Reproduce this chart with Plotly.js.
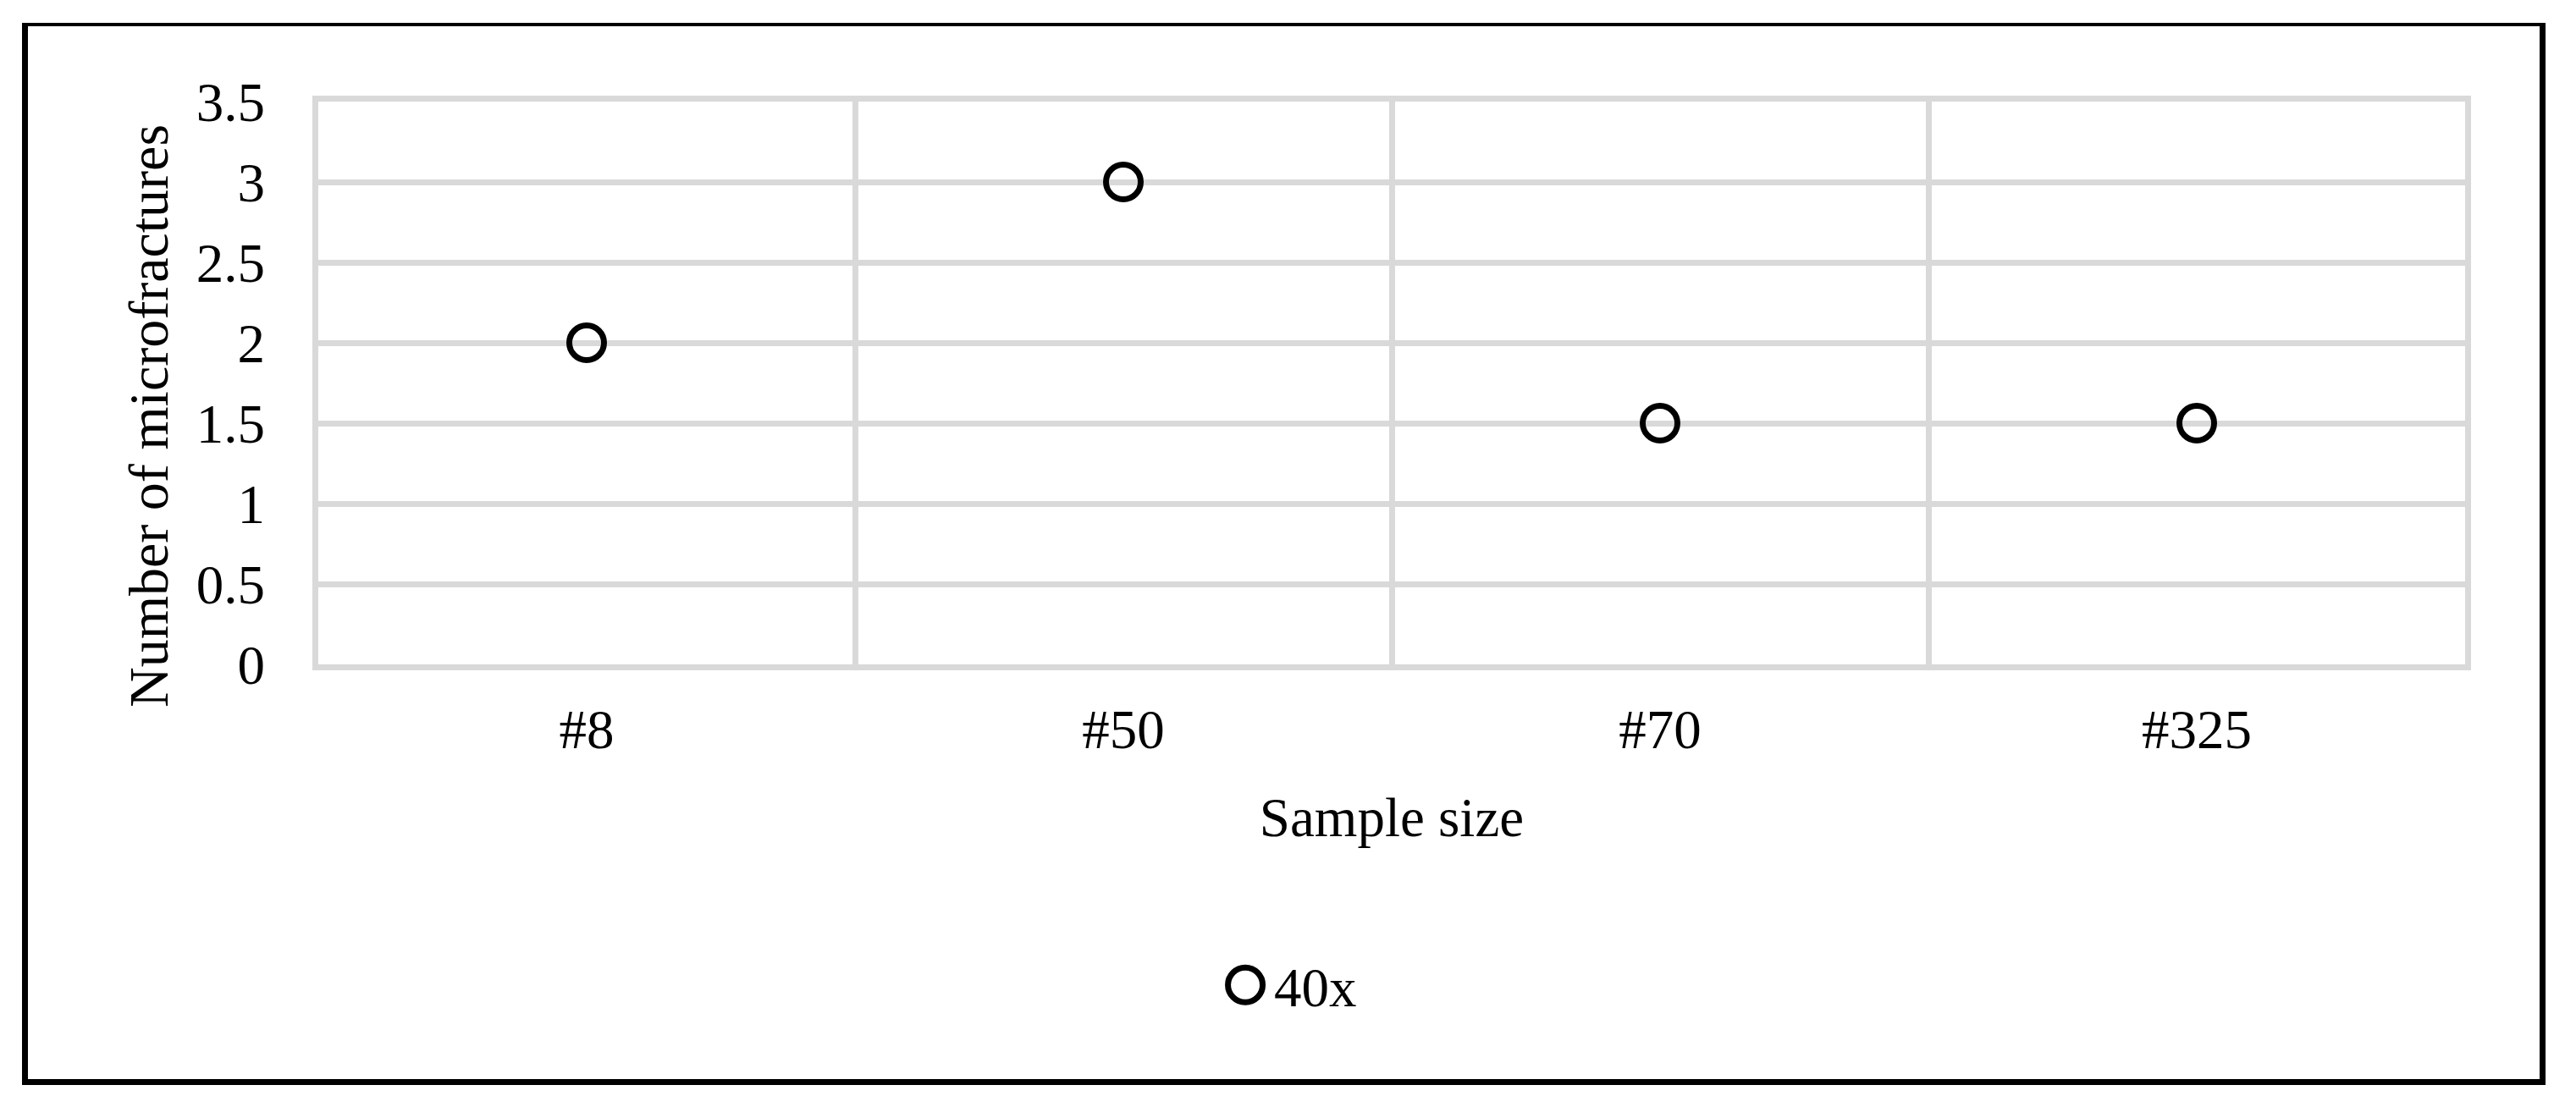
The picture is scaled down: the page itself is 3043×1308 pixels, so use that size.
<!DOCTYPE html>
<html>
<head>
<meta charset="utf-8">
<script src="https://cdn.plot.ly/plotly-3.0.1.min.js"></script>
<style>
  html, body { margin: 0; padding: 0; background: #ffffff; }
  #wrap { position: relative; width: 3043px; height: 1308px; }
  #chart { position: absolute; left: 0; top: 0; width: 3043px; height: 1308px; }
  #frame { position: absolute; left: 26px; top: 27px; width: 2967px; height: 1244px;
           border-style: solid; border-color: #000; border-width: 4px 7px 7px 7px; pointer-events: none; }
</style>
</head>
<body>
<div id="wrap">
  <div id="chart"></div>
  <div id="frame"></div>
</div>
<script>
// Data
const categories = ["#8", "#50", "#70", "#325"];
const microfractures40x = [2, 3, 1.5, 1.5];
const seriesName = "40x";
const yTickVals = [0, 0.5, 1, 1.5, 2, 2.5, 3, 3.5];
const yTickText = ["0", "0.5", "1", "1.5", "2", "2.5", "3", "3.5"];
const xTitle = "Sample size";
const yTitle = "Number of microfractures";

const FONT = "Liberation Serif, Times New Roman, serif";
const GRID = "#d9d9d9";

const trace = {
  type: "scatter",
  mode: "markers",
  name: seriesName,
  x: categories,
  y: microfractures40x,
  marker: { symbol: "circle-open", size: 41, color: "#000000", line: { width: 7, color: "#000000" } },
  cliponaxis: false,
  hoverinfo: "x+y"
};

const layout = {
  width: 3043,
  height: 1308,
  paper_bgcolor: "#ffffff",
  plot_bgcolor: "#ffffff",
  font: { family: FONT, size: 64, color: "#000000" },
  margin: { l: 376, r: 131, t: 120, b: 523, pad: 0 },
  showlegend: true,
  legend: {
    orientation: "h",
    x: 0.4184, xanchor: "left",
    y: -0.570, yanchor: "middle",
    itemwidth: 58,
    font: { family: FONT, size: 65, color: "#000000" },
    bgcolor: "rgba(0,0,0,0)"
  },
  xaxis: {
    type: "category",
    categoryorder: "array",
    categoryarray: categories,
    range: [-0.5, 3.5],
    tickson: "boundaries",
    showgrid: true,
    gridcolor: GRID,
    gridwidth: 7,
    showline: true,
    linecolor: GRID,
    linewidth: 7,
    mirror: true,
    ticks: "",
    zeroline: false,
    ticklabelstandoff: 14,
    tickfont: { family: FONT, size: 65, color: "#000000" },
    title: { text: xTitle, font: { family: FONT, size: 65, color: "#000000" }, standoff: 48 },
    automargin: false,
    fixedrange: true
  },
  yaxis: {
    range: [0, 3.5],
    tickmode: "array",
    tickvals: yTickVals,
    ticktext: yTickText,
    showgrid: true,
    gridcolor: GRID,
    gridwidth: 7,
    showline: true,
    linecolor: GRID,
    linewidth: 7,
    mirror: true,
    zeroline: false,
    ticks: "",
    ticklabelstandoff: 43,
    tickfont: { family: FONT, size: 65, color: "#000000" },
    automargin: false,
    fixedrange: true
  },
  annotations: [{
    text: yTitle,
    xref: "paper", yref: "paper",
    x: -0.0793, y: 0.442,
    xanchor: "center", yanchor: "middle",
    textangle: -90,
    showarrow: false,
    font: { family: FONT, size: 66, color: "#000000" }
  }]
};

Plotly.newPlot("chart", [trace], layout, { displayModeBar: false, staticPlot: true }).then(function (gd) {
  // enlarge the legend symbol to match the marker size of the plotted points
  const r = 20.5;
  gd.querySelectorAll(".legend .legendpoints path.scatterpts").forEach(function (p) {
    p.setAttribute("d", "M" + r + ",0A" + r + "," + r + " 0 1,1 0,-" + r + "A" + r + "," + r + " 0 0,1 " + r + ",0Z");
    p.style.strokeWidth = "7px";
  });
});
</script>
</body>
</html>
